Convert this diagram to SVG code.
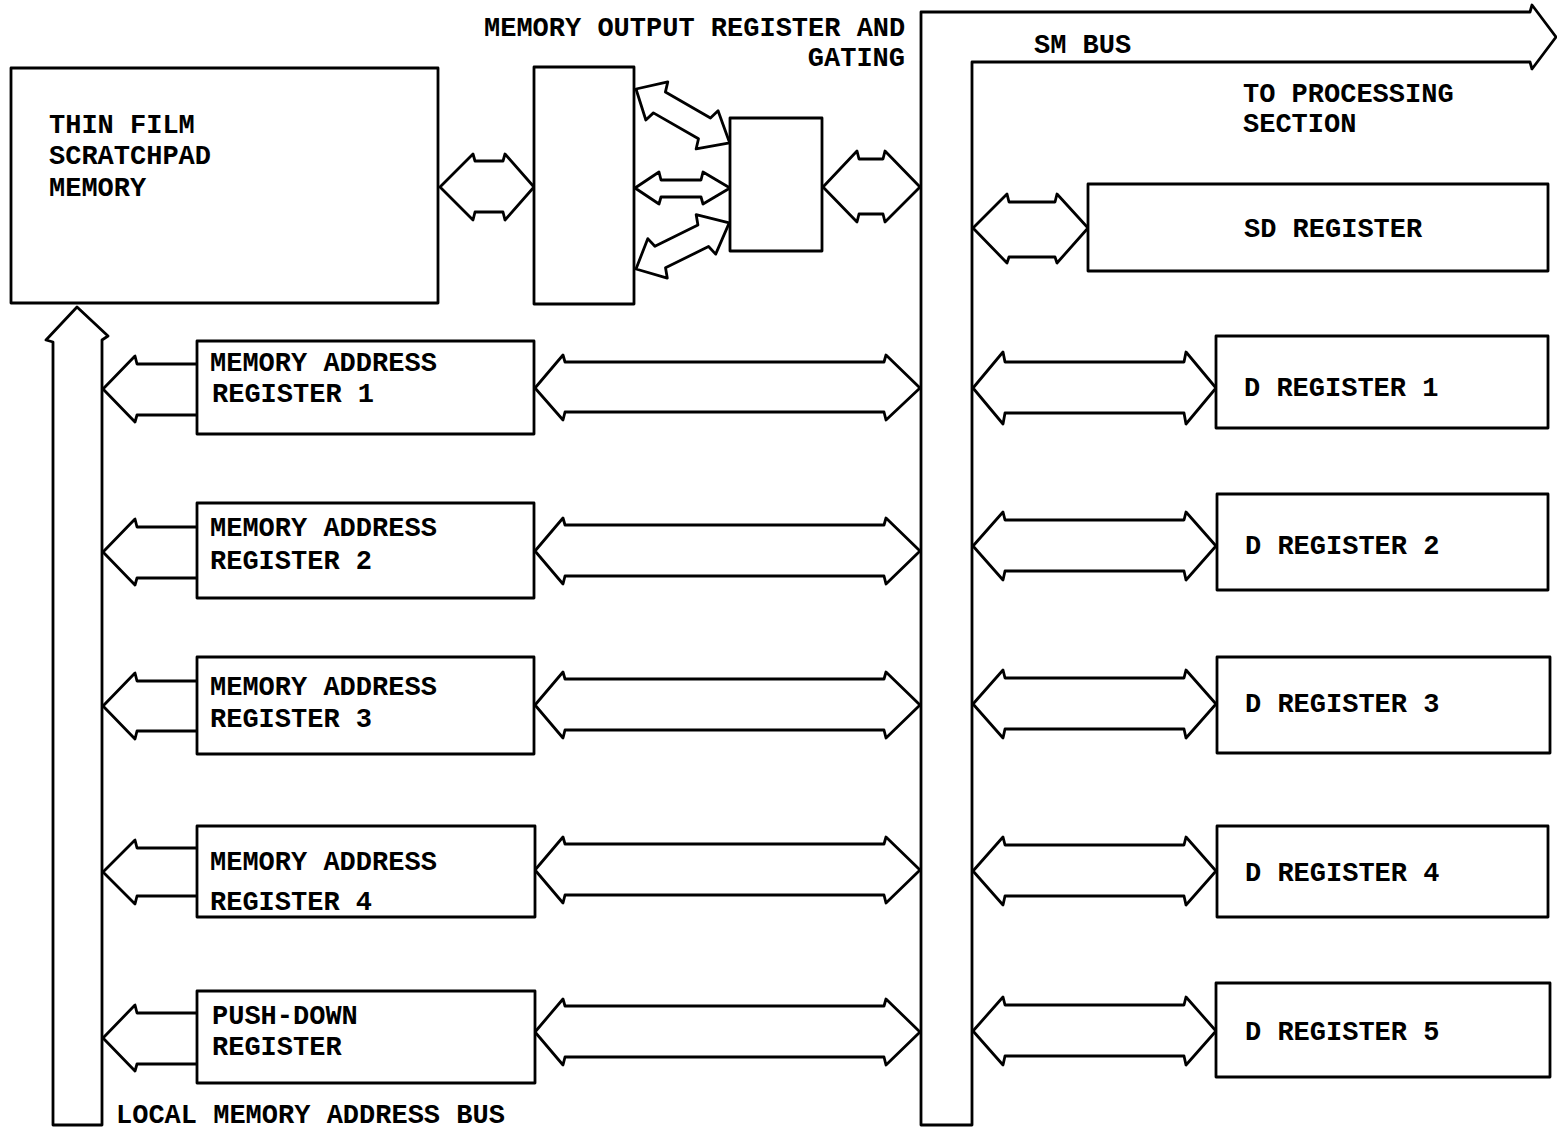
<svg xmlns="http://www.w3.org/2000/svg" width="1557" height="1130" viewBox="0 0 1557 1130">
<style>
.box{fill:#fff;stroke:#000;stroke-width:2.8;stroke-linejoin:round}
.ln{fill:none;stroke:#000;stroke-width:2.8;stroke-linejoin:round}
.t{font-family:"Liberation Mono","Courier New",monospace;font-weight:bold;font-size:27px;fill:#000}
</style>
<rect width="1557" height="1130" fill="#fff"/>

<g id="connectors">
  <!-- local memory address bus -->
  <path id="local-bus" class="ln" d="M53,1125 L53,342 L46,340 L77,307 L108,336 L102,340 L102,1125 Z"/>
  <!-- SM bus -->
  <path id="sm-bus" class="ln" d="M921,1125 L921,12 L1530,12 L1532,5 L1556,37 L1532,69 L1530,62 L972,62 L972,1125 Z"/>

  <!-- thin film <-> MOR -->
  <path class="ln" d="M440,187 L473,154 L475,161 L503,161 L505,154 L534,187 L505,220 L503,212 L475,212 L473,220 Z"/>
  <!-- MOR <-> gating -->
  <path class="ln" transform="translate(636,89) rotate(29.9)" d="M0,0 L24,-22 L27,-12 L79,-12 L82,-22 L108,0 L82,22 L79,12 L27,12 L24,22 Z"/>
  <path class="ln" d="M635,188 L659,172 L661,180 L701,180 L703,172 L730,188 L703,204 L701,197 L661,197 L659,204 Z"/>
  <path class="ln" transform="translate(636,269) rotate(-26.3)" d="M0,0 L24,-22 L27,-12 L75,-12 L78,-22 L104,0 L78,22 L75,12 L27,12 L24,22 Z"/>
  <!-- gating <-> SM bus -->
  <path class="ln" d="M823,187 L857,151 L859,159 L883,159 L885,151 L920,187 L885,222 L883,214 L859,214 L857,222 Z"/>
  <!-- SM bus <-> SD register -->
  <path class="ln" d="M973,228 L1007,194 L1009,202 L1055,202 L1057,194 L1088,228 L1057,263 L1055,257 L1009,257 L1007,263 Z"/>

  <!-- MAR -> local bus -->
  <path class="ln" d="M197,364 L137,364 L135,356 L103,389 L135,422 L137,415 L197,415"/>
  <path class="ln" d="M197,527 L137,527 L135,519 L103,552 L135,585 L137,578 L197,578"/>
  <path class="ln" d="M197,681 L137,681 L135,673 L103,706 L135,739 L137,731 L197,731"/>
  <path class="ln" d="M197,848 L137,848 L135,840 L103,872 L135,904 L137,896 L197,896"/>
  <path class="ln" d="M197,1013 L137,1013 L135,1005 L103,1038 L135,1071 L137,1064 L197,1064"/>

  <!-- MAR <-> SM bus -->
  <path class="ln" d="M535,388 L563,355 L565,362 L884,362 L886,355 L920,388 L886,420 L884,412 L565,412 L563,420 Z"/>
  <path class="ln" d="M535,551 L563,518 L565,525 L884,525 L886,518 L920,551 L886,584 L884,576 L565,576 L563,584 Z"/>
  <path class="ln" d="M535,705 L563,672 L565,679 L884,679 L886,672 L920,705 L886,738 L884,730 L565,730 L563,738 Z"/>
  <path class="ln" d="M535,870 L563,837 L565,844 L884,844 L886,837 L920,870 L886,903 L884,895 L565,895 L563,903 Z"/>
  <path class="ln" d="M535,1032 L563,999 L565,1006 L884,1006 L886,999 L920,1032 L886,1065 L884,1057 L565,1057 L563,1065 Z"/>

  <!-- SM bus <-> D registers -->
  <path class="ln" d="M973,388 L1003,352 L1005,362 L1184,362 L1186,352 L1216,388 L1186,424 L1184,413 L1005,413 L1003,424 Z"/>
  <path class="ln" d="M973,546 L1003,512 L1005,520 L1184,520 L1186,512 L1216,546 L1186,580 L1184,571 L1005,571 L1003,580 Z"/>
  <path class="ln" d="M973,704 L1003,670 L1005,678 L1184,678 L1186,670 L1216,704 L1186,738 L1184,729 L1005,729 L1003,738 Z"/>
  <path class="ln" d="M973,871 L1003,837 L1005,845 L1184,845 L1186,837 L1216,871 L1186,905 L1184,896 L1005,896 L1003,905 Z"/>
  <path class="ln" d="M973,1031 L1003,997 L1005,1005 L1184,1005 L1186,997 L1216,1031 L1186,1065 L1184,1056 L1005,1056 L1003,1065 Z"/>
</g>

<text class="t" x="484" y="36">MEMORY OUTPUT REGISTER AND</text>
<text class="t" x="905" y="66" text-anchor="end">GATING</text>
<text class="t" x="1034" y="53">SM BUS</text>
<text class="t" x="1243" y="102">TO PROCESSING</text>
<text class="t" x="1243" y="132">SECTION</text>
<text class="t" x="116" y="1123">LOCAL MEMORY ADDRESS BUS</text>

<g id="thin-film-memory">
  <rect class="box" x="11" y="68" width="427" height="235"/>
  <text class="t" x="49" y="133">THIN FILM</text>
  <text class="t" x="49" y="164">SCRATCHPAD</text>
  <text class="t" x="49" y="196">MEMORY</text>
</g>
<g id="memory-output-register">
  <rect class="box" x="534" y="67" width="100" height="237"/>
</g>
<g id="gating">
  <rect class="box" x="730" y="118" width="92" height="133"/>
</g>

<g id="mar1">
  <rect class="box" x="197" y="341" width="337" height="93"/>
  <text class="t" x="210" y="371">MEMORY ADDRESS</text>
  <text class="t" x="212" y="402">REGISTER 1</text>
</g>
<g id="mar2">
  <rect class="box" x="197" y="503" width="337" height="95"/>
  <text class="t" x="210" y="536">MEMORY ADDRESS</text>
  <text class="t" x="210" y="569">REGISTER 2</text>
</g>
<g id="mar3">
  <rect class="box" x="197" y="657" width="337" height="97"/>
  <text class="t" x="210" y="695">MEMORY ADDRESS</text>
  <text class="t" x="210" y="727">REGISTER 3</text>
</g>
<g id="mar4">
  <rect class="box" x="197" y="826" width="338" height="91"/>
  <text class="t" x="210" y="870">MEMORY ADDRESS</text>
  <text class="t" x="210" y="910">REGISTER 4</text>
</g>
<g id="push-down">
  <rect class="box" x="197" y="991" width="338" height="92"/>
  <text class="t" x="212" y="1024">PUSH-DOWN</text>
  <text class="t" x="212" y="1055">REGISTER</text>
</g>

<g id="sd-register">
  <rect class="box" x="1088" y="184" width="460" height="87"/>
  <text class="t" x="1244" y="237">SD REGISTER</text>
</g>
<g id="d1">
  <rect class="box" x="1216" y="336" width="332" height="92"/>
  <text class="t" x="1244" y="396">D REGISTER 1</text>
</g>
<g id="d2">
  <rect class="box" x="1217" y="494" width="331" height="96"/>
  <text class="t" x="1245" y="554">D REGISTER 2</text>
</g>
<g id="d3">
  <rect class="box" x="1217" y="657" width="333" height="96"/>
  <text class="t" x="1245" y="712">D REGISTER 3</text>
</g>
<g id="d4">
  <rect class="box" x="1217" y="826" width="331" height="91"/>
  <text class="t" x="1245" y="881">D REGISTER 4</text>
</g>
<g id="d5">
  <rect class="box" x="1216" y="983" width="334" height="94"/>
  <text class="t" x="1245" y="1040">D REGISTER 5</text>
</g>
</svg>
